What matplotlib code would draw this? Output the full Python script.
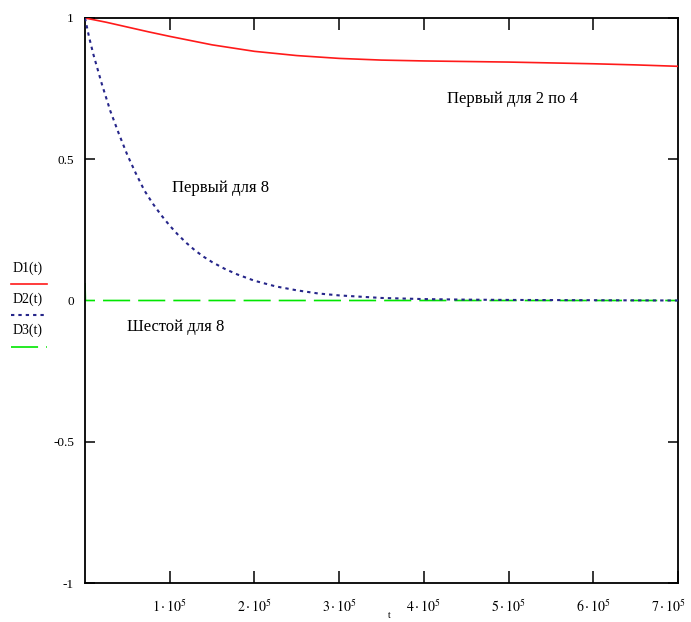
import numpy as np
import matplotlib.pyplot as plt
import matplotlib.transforms as mtransforms
from matplotlib.lines import Line2D

plt.rcParams['font.family'] = ['Liberation Serif', 'DejaVu Serif']
plt.rcParams['mathtext.fontset'] = 'stix'
plt.rcParams['lines.scale_dashes'] = False

# D1(t) - "Первый для 2 по 4"
t1 = [0, 25000, 50000, 75000, 100000, 150000, 200000, 250000, 300000, 350000,
      400000, 450000, 500000, 550000, 600000, 650000, 700000]
d1 = [1.0, 0.985, 0.968, 0.951, 0.935, 0.905, 0.882, 0.867, 0.857, 0.851,
      0.848, 0.846, 0.844, 0.841, 0.838, 0.834, 0.829]

# D2(t) - "Первый для 8"
t2 = [0, 5000, 10000, 20000, 30000, 40000, 50000, 60000, 70000, 80000, 90000,
      100000, 110000, 120000, 130000, 140000, 150000, 165000, 180000, 200000,
      225000, 250000, 275000, 300000, 350000, 400000, 450000, 500000, 600000, 700000]
d2 = [1.0, 0.93, 0.87, 0.765, 0.67, 0.59, 0.515, 0.45, 0.39, 0.343, 0.302,
      0.265, 0.232, 0.203, 0.177, 0.155, 0.136, 0.112, 0.092, 0.07,
      0.05, 0.036, 0.025, 0.018, 0.009, 0.005, 0.003, 0.002, 0.001, 0.0]

# D3(t) - "Шестой для 8"
t3 = [0, 500, 700000]
d3 = [0.062, 0.0, 0.0]

xticks = [100000, 200000, 300000, 400000, 500000, 600000, 700000]
xlabels = [r'$1\cdot10^5$', r'$2\cdot10^5$', r'$3\cdot10^5$', r'$4\cdot10^5$',
           r'$5\cdot10^5$', r'$6\cdot10^5$', r'$7\cdot10^5$']
yticks = [-1, -0.5, 0, 0.5, 1]
ylabels = ['-1', '-0.5', '0', '0.5', '1']

W, H = 691, 622
fig = plt.figure(figsize=(W / 100, H / 100), dpi=100)
ax = fig.add_axes([85 / W, 1 - 583 / H, (678 - 85) / W, (583 - 18) / H])

ax.plot(t1, d1, color='#ff1a1a', lw=1.2, zorder=3)
ax.plot(t3, d3, color='#00e600', lw=1.2, dashes=(19.5, 5.8), zorder=2)
ax.plot(t2, d2, color='#26268a', lw=1.5, dashes=(2.4, 2.9), zorder=4)

ax.set_xlim(0, 700000)
ax.set_ylim(-1, 1)
ax.set_xticks(xticks)
ax.set_xticklabels(xlabels, fontsize=10)
ax.set_yticks(yticks)
ax.set_yticklabels(ylabels, fontsize=9.5)
ax.tick_params(axis='x', direction='in', length=8.5, width=1.1, top=True, pad=11)
ax.tick_params(axis='y', direction='in', length=7.5, width=1.1, right=True, pad=8)
for tk in ax.yaxis.get_major_ticks():
    if tk.get_loc() == 0:
        tk.tick1line.set_visible(False)
        tk.tick2line.set_visible(False)
for s in ax.spines.values():
    s.set_linewidth(1.3)

# keep the last x label inside the picture
fig.canvas.draw()
last = ax.get_xticklabels()[-1]
last.set_transform(last.get_transform() + mtransforms.ScaledTranslation(-9 / 100, 0, fig.dpi_scale_trans))


def px(x, y):
    return x / W, 1 - y / H


fig.text(*px(172, 188), 'Первый для 8', fontsize=12, va='center', ha='left')
fig.text(*px(447, 99), 'Первый для 2 по 4', fontsize=12, va='center', ha='left')
fig.text(*px(127, 327), 'Шестой для 8', fontsize=12, va='center', ha='left')

# legend on the left
fig.text(*px(13, 268), 'D1(t)', fontsize=10, va='center', ha='left')
fig.text(*px(13, 299), 'D2(t)', fontsize=10, va='center', ha='left')
fig.text(*px(13, 330), 'D3(t)', fontsize=10, va='center', ha='left')
fig.add_artist(Line2D([11 / W, 47 / W], [1 - 284 / H] * 2, color='#ff1a1a', lw=1.2))
fig.add_artist(Line2D([11 / W, 47 / W], [1 - 315 / H] * 2, color='#26268a', lw=1.5,
                      dashes=(2.4, 2.9)))
fig.add_artist(Line2D([11 / W, 47 / W], [1 - 347 / H] * 2, color='#00e600', lw=1.2,
                      dashes=(19.5, 5.8)))

fig.text(*px(389, 616), 't', fontsize=7, va='center', ha='center')

fig.savefig('out.png', dpi=100)
